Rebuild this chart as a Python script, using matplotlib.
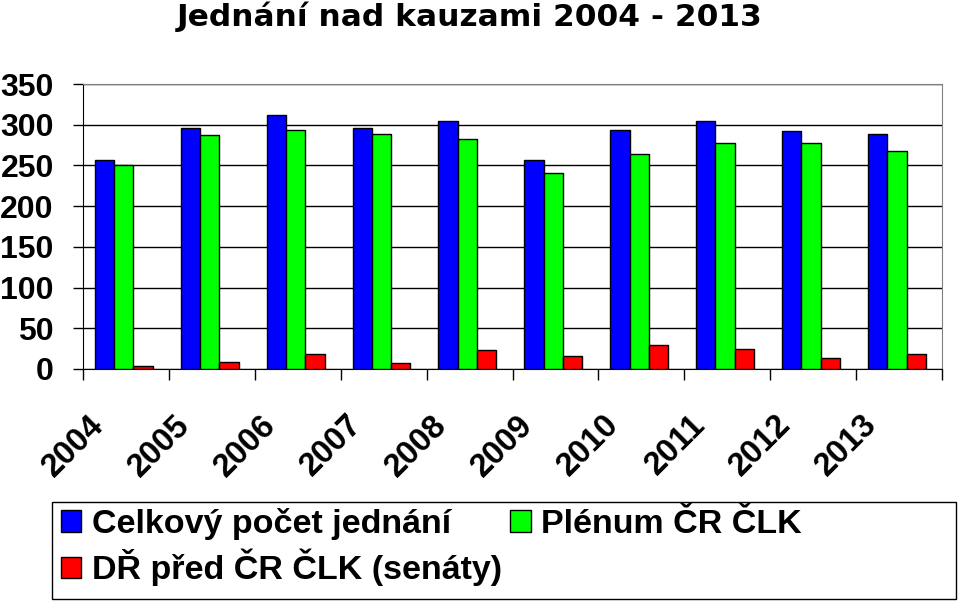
import matplotlib
matplotlib.use("Agg")
import matplotlib.pyplot as plt
import numpy as np
from matplotlib.transforms import ScaledTranslation
from matplotlib.patches import Patch, Rectangle

years = ["2004", "2005", "2006", "2007", "2008", "2009", "2010", "2011", "2012", "2013"]
celkovy = [257, 296, 312, 296, 305, 257, 294, 304, 292, 288]
plenum = [251, 287, 294, 289, 282, 241, 264, 278, 277, 268]
senaty = [4, 9, 19, 7, 23, 16, 30, 25, 14, 19]
yticks = [0, 50, 100, 150, 200, 250, 300, 350]
labels = ["Celkový počet jednání", "DŘ před ČR ČLK (senáty)", "Plénum ČR ČLK"]
title = "Jednání nad kauzami 2004 - 2013"

plt.rcParams['font.family'] = ['Liberation Sans', 'DejaVu Sans']
plt.rcParams['font.weight'] = 'bold'

fig = plt.figure(figsize=(9.6, 6.02), dpi=100)
W, H = 960, 602
ax = fig.add_axes([83 / W, 1 - 369 / H, 859 / W, 285 / H])

x = np.arange(len(years))
bw = 0.225
ax.bar(x - 0.25, celkovy, bw, color="#0000FF", edgecolor="black", linewidth=1, zorder=3)
ax.bar(x - 0.025, plenum, bw, color="#00FF00", edgecolor="black", linewidth=1, zorder=3)
ax.bar(x + 0.20, senaty, bw, color="#FF0000", edgecolor="black", linewidth=1, zorder=3)

ax.set_xlim(-0.5, len(years) - 0.5)
ax.set_ylim(0, 350)
ax.set_yticks(yticks)
ax.set_yticklabels([str(v) for v in yticks], fontsize=23, fontweight='bold')
ax.yaxis.grid(True, color="black", linewidth=1, zorder=0)
ax.set_axisbelow(True)
ax.tick_params(axis='y', direction='out', length=7, width=1, color='black', pad=14)

ax.set_xticks(x)
ax.set_xticklabels(years, rotation=45, ha='right', va='top', fontsize=23.5, fontweight='bold')
ax.set_xticks(np.arange(len(years) + 1) - 0.5, minor=True)
ax.tick_params(axis='x', which='major', length=0, pad=29)
ax.tick_params(axis='x', which='minor', length=8, width=1, direction='out', color='black')
for lbl in ax.get_xticklabels():
    lbl.set_transform(lbl.get_transform() + ScaledTranslation(-16 / 100, 0, fig.dpi_scale_trans))

for s in ['top', 'right']:
    ax.spines[s].set_color('#808080')
for s in ['left', 'bottom']:
    ax.spines[s].set_color('black')

fig.text(470 / W, 1 - 17 / H, title, ha='center', va='center', fontsize=22.5,
         fontweight='bold', family=['DejaVu Sans'])

handles = [Patch(facecolor="#0000FF", edgecolor="black"),
           Patch(facecolor="#FF0000", edgecolor="black"),
           Patch(facecolor="#00FF00", edgecolor="black")]
leg = fig.legend(handles, labels, ncol=2, loc='upper left',
                 bbox_to_anchor=(61 / W, 1 - 508 / H),
                 prop={'size': 24.5, 'weight': 'bold'}, frameon=False,
                 handlelength=0.6, handleheight=0.6,
                 handletextpad=0.3, labelspacing=0.26, borderpad=0, borderaxespad=0,
                 columnspacing=0.25)
fig.patches.append(Rectangle((52 / W, 1 - 599 / H), 904 / W, 97 / H,
                             transform=fig.transFigure, fill=False,
                             edgecolor='black', linewidth=1))

fig.savefig("out.png", dpi=100)
